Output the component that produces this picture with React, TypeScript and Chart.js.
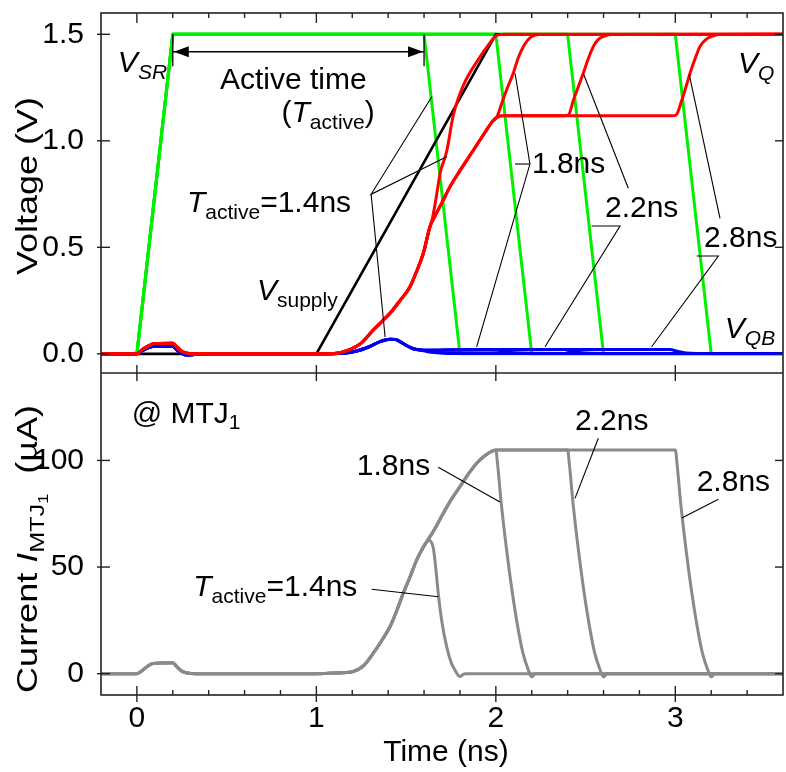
import React, { useEffect, useRef } from 'react';
import { Chart, registerables } from 'chart.js';

Chart.register(...registerables);

const FONT = '"Liberation Sans", Arial, Helvetica, sans-serif';
const FS = 30;

type P = [number, number];

// ---------- axis ticks ----------
const X_TICKS = [0, 1, 2, 3];
const V_TICKS = [0, 0.5, 1.0, 1.5];
const I_TICKS = [0, 50, 100];

// ---------- V_SR (green) for T_active = 1.4 / 1.8 / 2.2 / 2.8 ns ----------
const VSR_14: P[] = [[-0.2, 0], [0, 0], [0.2, 1.5], [1.6, 1.5], [1.8, 0], [3.6, 0]];
const VSR_18: P[] = [[-0.2, 0], [0, 0], [0.2, 1.5], [2.0, 1.5], [2.2, 0], [3.6, 0]];
const VSR_22: P[] = [[-0.2, 0], [0, 0], [0.2, 1.5], [2.4, 1.5], [2.6, 0], [3.6, 0]];
const VSR_28: P[] = [[-0.2, 0], [0, 0], [0.2, 1.5], [3.0, 1.5], [3.2, 0], [3.6, 0]];

// ---------- V_supply (black) ----------
const VSUP: P[] = [[-0.2, 0], [1.0, 0], [2.0, 1.5], [3.6, 1.5]];

// ---------- V_Q (red) ----------
const VQ_RISE: P[] = [[-0.2, 0], [0, 0], [0.03, 0.02], [0.07, 0.04], [0.1, 0.048], [0.2, 0.05], [0.22, 0.035], [0.25, 0.012], [0.29, 0.002], [0.35, 0], [1.0, 0], [1.1, 0.002], [1.187, 0.02], [1.25, 0.05], [1.317, 0.112], [1.41, 0.19], [1.466, 0.25], [1.522, 0.315], [1.56, 0.39], [1.596, 0.472], [1.633, 0.597]];
const VQ_UP14: P[] = [[1.645, 0.63], [1.665, 0.72], [1.69, 0.85], [1.726, 0.95], [1.763, 1.12], [1.819, 1.26], [1.893, 1.37], [1.967, 1.46], [2.005, 1.495], [2.06, 1.5], [3.6, 1.5]];
const VQ_MID: P[] = [[1.66, 0.645], [1.70, 0.71], [1.745, 0.785], [1.80, 0.86], [1.87, 0.95], [1.94, 1.04], [1.98, 1.09], [2.005, 1.11]];
const VQ_UP18: P[] = [[2.033, 1.176], [2.065, 1.25], [2.097, 1.317], [2.125, 1.39], [2.153, 1.442], [2.18, 1.475], [2.2, 1.49], [2.24, 1.499], [3.6, 1.5]];
const VQ_HOLD22: P[] = [[2.04, 1.118], [2.38, 1.118]];
const VQ_UP22: P[] = [[2.404, 1.121], [2.432, 1.19], [2.46, 1.255], [2.487, 1.317], [2.515, 1.385], [2.543, 1.442], [2.57, 1.475], [2.6, 1.49], [2.64, 1.499], [3.6, 1.5]];
const VQ_HOLD28: P[] = [[2.04, 1.118], [2.98, 1.118]];
const VQ_UP28: P[] = [[3.004, 1.121], [3.036, 1.19], [3.06, 1.255], [3.082, 1.317], [3.11, 1.385], [3.137, 1.442], [3.17, 1.475], [3.203, 1.49], [3.24, 1.499], [3.6, 1.5]];

// ---------- V_QB (blue) ----------
const VQB_RISE: P[] = [[-0.2, 0], [0, 0], [0.03, 0.015], [0.07, 0.03], [0.1, 0.035], [0.2, 0.036], [0.22, 0.02], [0.25, 0.002], [0.28, -0.006], [0.33, -0.002], [0.4, 0], [1.0, 0], [1.15, 0.003], [1.22, 0.012], [1.29, 0.032], [1.355, 0.057], [1.41, 0.068], [1.44, 0.067], [1.466, 0.057], [1.5, 0.04], [1.54, 0.024], [1.58, 0.018]];
const VQB_14: P[] = [[1.62, 0.01], [1.67, 0.005], [1.726, 0.002], [3.6, 0.001]];
const VQB_18: P[] = [[1.62, 0.017], [1.8, 0.02], [1.96, 0.02], [2.005, 0.018], [2.05, 0.01], [2.1, 0.005], [2.2, 0.002], [3.6, 0.001]];
const VQB_22: P[] = [[1.62, 0.017], [2.0, 0.02], [2.38, 0.02], [2.42, 0.012], [2.48, 0.005], [2.6, 0.002], [3.6, 0.001]];
const VQB_28: P[] = [[1.62, 0.017], [2.4, 0.02], [2.97, 0.02], [3.01, 0.012], [3.06, 0.004], [3.2, 0.001], [3.6, 0.001]];

// ---------- I_MTJ1 (gray, µA) ----------
const I_RISE: P[] = [[-0.2, 0], [0, 0], [0.03, 1.5], [0.06, 3.5], [0.09, 4.8], [0.2, 5.1], [0.22, 3.5], [0.25, 1.2], [0.29, 0.2], [0.35, 0], [1.0, 0], [1.1, 0.3], [1.2, 0.9], [1.26, 3.5], [1.317, 9.6], [1.36, 15], [1.41, 22], [1.45, 30], [1.484, 37.7], [1.52, 45], [1.559, 53.3], [1.59, 58.5], [1.615, 61.9]];
const I_PEAK14: P[] = [[1.626, 62.6], [1.638, 62], [1.652, 58.8], [1.67, 45.5], [1.679, 37.7], [1.70, 24], [1.726, 12.7], [1.75, 5.5], [1.772, 1.7], [1.79, -0.8], [1.80, -1.4], [1.815, -0.5], [1.83, 0], [3.6, 0]];
const I_CONT: P[] = [[1.65, 66.5], [1.707, 75.2], [1.75, 81.5], [1.80, 87.7], [1.85, 94], [1.893, 98.7], [1.94, 102.3], [1.975, 104.2], [2.0, 104.9]];
const I_DROP18: P[] = [[2.01, 98], [2.03, 80], [2.06, 58], [2.09, 39], [2.12, 23], [2.15, 10], [2.18, 2], [2.2, -1.5], [2.22, 0], [3.6, 0]];
const I_HOLD22: P[] = [[2.4, 104.9]];
const I_DROP22: P[] = [[2.41, 98], [2.43, 80], [2.46, 58], [2.49, 39], [2.52, 23], [2.55, 10], [2.58, 2], [2.6, -1.5], [2.62, 0], [3.6, 0]];
const I_HOLD28: P[] = [[3.0, 104.9]];
const I_DROP28: P[] = [[3.01, 98], [3.03, 80], [3.06, 58], [3.09, 39], [3.12, 23], [3.15, 10], [3.18, 2], [3.2, -1.5], [3.22, 0], [3.6, 0]];

// ---------- annotations (data coordinates) ----------
type Seg = { t: string; it?: boolean; sub?: number };
type Txt = { x: number; y: number; segs: Seg[] };

const TOP_TEXTS: Txt[] = [
  { x: -0.106, y: 1.323, segs: [{ t: 'V', it: true }, { t: 'SR', it: true, sub: 1 }] },
  { x: 0.463, y: 1.243, segs: [{ t: 'Active time' }] },
  { x: 0.806, y: 1.088, segs: [{ t: '(' }, { t: 'T', it: true }, { t: 'active', sub: 1 }, { t: ')' }] },
  { x: 0.279, y: 0.666, segs: [{ t: 'T', it: true }, { t: 'active', sub: 1 }, { t: '=1.4ns' }] },
  { x: 0.669, y: 0.253, segs: [{ t: 'V', it: true }, { t: 'supply', sub: 1 }] },
  { x: 2.201, y: 0.849, segs: [{ t: '1.8ns' }] },
  { x: 2.608, y: 0.642, segs: [{ t: '2.2ns' }] },
  { x: 3.16, y: 0.501, segs: [{ t: '2.8ns' }] },
  { x: 3.349, y: 1.318, segs: [{ t: 'V', it: true }, { t: 'Q', it: true, sub: 1 }] },
  { x: 3.276, y: 0.074, segs: [{ t: 'V', it: true }, { t: 'QB', it: true, sub: 1 }] },
];
const TOP_LEADERS: P[][] = [
  [[1.643, 1.207], [1.305, 0.749], [1.726, 0.925]],
  [[1.305, 0.749], [1.383, 0.079]],
  [[2.107, 1.317], [2.19, 0.891], [1.893, 0.033]],
  [[2.107, 0.891], [2.19, 0.891]],
  [[2.534, 0.6], [2.692, 0.6], [2.274, 0.033]],
  [[2.738, 0.777], [2.487, 1.317]],
  [[3.249, 0.636], [3.078, 1.309]],
  [[3.119, 0.459], [3.24, 0.459], [2.868, 0.033]],
];
const ARROW_Y = 1.418;
const ARROW_X: P = [0.2, 1.6];
const BAR_Y: P = [1.5, 1.35];

const BOTTOM_TEXTS: Txt[] = [
  { x: -0.029, y: 117.6, segs: [{ t: '@ MTJ' }, { t: '1', sub: 1 }] },
  { x: 1.225, y: 93.2, segs: [{ t: '1.8ns' }] },
  { x: 2.441, y: 114.3, segs: [{ t: '2.2ns' }] },
  { x: 3.119, y: 85.8, segs: [{ t: '2.8ns' }] },
  { x: 0.314, y: 36.4, segs: [{ t: 'T', it: true }, { t: 'active', sub: 1 }, { t: '=1.4ns' }] },
];
const BOTTOM_LEADERS: P[][] = [
  [[1.679, 96.8], [2.023, 80.5]],
  [[2.571, 110.4], [2.441, 82.2]],
  [[3.24, 81.8], [3.036, 73]],
  [[1.308, 39.6], [1.679, 36.1]],
];

const V_TITLE: Seg[] = [{ t: 'Voltage (V)' }];
const I_TITLE: Seg[] = [{ t: 'Current ' }, { t: 'I', it: true }, { t: 'MTJ', sub: 1 }, { t: '1', sub: 2 }, { t: '  (µA)' }];
const X_TITLE: Seg[] = [{ t: 'Time (ns)' }];

// ---------- helpers ----------
const toXY = (arr: P[]) => arr.map(([x, y]) => ({ x, y }));

function segFont(s: Seg, size: number) {
  const lvl = s.sub || 0;
  const sz = lvl === 0 ? size : lvl === 1 ? size * 0.7 : size * 0.5;
  return `${s.it ? 'italic ' : ''}${sz}px ${FONT}`;
}
function segDy(s: Seg, size: number) {
  const lvl = s.sub || 0;
  return lvl === 0 ? 0 : lvl === 1 ? size * 0.22 : size * 0.38;
}
function richWidth(ctx: CanvasRenderingContext2D, segs: Seg[], size: number) {
  let w = 0;
  for (const s of segs) {
    ctx.font = segFont(s, size);
    w += ctx.measureText(s.t).width;
  }
  return w;
}
function drawRich(ctx: CanvasRenderingContext2D, segs: Seg[], x: number, y: number, size: number) {
  let cx = x;
  ctx.textAlign = 'left';
  ctx.textBaseline = 'alphabetic';
  for (const s of segs) {
    ctx.font = segFont(s, size);
    ctx.fillText(s.t, cx, y + segDy(s, size));
    cx += ctx.measureText(s.t).width;
  }
}

const overlay = {
  id: 'overlay',
  afterDraw(chart: any) {
    const ctx: CanvasRenderingContext2D = chart.ctx;
    const xs = chart.scales.x;
    const yV = chart.scales.yV;
    const yI = chart.scales.yI;
    const L = xs.left, R = xs.right;
    const T = yV.top, M = yV.bottom, B = yI.bottom;
    const ln = (x1: number, y1: number, x2: number, y2: number) => {
      ctx.beginPath();
      ctx.moveTo(x1, y1);
      ctx.lineTo(x2, y2);
      ctx.stroke();
    };
    ctx.save();
    // frame
    ctx.strokeStyle = '#222';
    ctx.lineWidth = 1.6;
    ctx.strokeRect(L, T, R - L, B - T);
    ln(L, M, R, M);
    // x ticks
    ctx.lineWidth = 1.4;
    for (const v of X_TICKS) {
      const px = xs.getPixelForValue(v);
      ln(px, B - 9, px, B + 7);
      ln(px, M - 8, px, M + 8);
      ln(px, T, px, T + 10);
    }
    for (let i = 1; i < 19; i++) {
      const v = -0.2 + i * 0.2;
      if (Math.abs(v - Math.round(v)) < 1e-6) continue;
      const px = xs.getPixelForValue(v);
      ln(px, B - 5, px, B);
      ln(px, T, px, T + 5);
    }
    // y ticks
    for (const v of V_TICKS) {
      const py = yV.getPixelForValue(v);
      ln(L - 4, py, L + 9, py);
      ln(R - 8, py, R, py);
    }
    for (const v of I_TICKS) {
      const py = yI.getPixelForValue(v);
      ln(L - 4, py, L + 9, py);
      ln(R - 8, py, R, py);
    }

    // leaders
    ctx.strokeStyle = '#000';
    ctx.lineWidth = 1.1;
    const poly = (pts: P[], ys: any) => {
      ctx.beginPath();
      pts.forEach(([x, y], i) => {
        const px = xs.getPixelForValue(x), py = ys.getPixelForValue(y);
        if (i === 0) ctx.moveTo(px, py); else ctx.lineTo(px, py);
      });
      ctx.stroke();
    };
    TOP_LEADERS.forEach((p) => poly(p, yV));
    BOTTOM_LEADERS.forEach((p) => poly(p, yI));

    // active-time arrow
    const ay = yV.getPixelForValue(ARROW_Y);
    const ax1 = xs.getPixelForValue(ARROW_X[0]);
    const ax2 = xs.getPixelForValue(ARROW_X[1]);
    ctx.lineWidth = 1.3;
    ln(ax1, ay, ax2, ay);
    for (const ax of [ax1, ax2]) {
      ln(ax, yV.getPixelForValue(BAR_Y[0]), ax, yV.getPixelForValue(BAR_Y[1]));
    }
    ctx.fillStyle = '#000';
    ctx.beginPath();
    ctx.moveTo(ax1 + 1, ay);
    ctx.lineTo(ax1 + 16, ay - 5.5);
    ctx.lineTo(ax1 + 16, ay + 5.5);
    ctx.closePath();
    ctx.fill();
    ctx.beginPath();
    ctx.moveTo(ax2 - 1, ay);
    ctx.lineTo(ax2 - 16, ay - 5.5);
    ctx.lineTo(ax2 - 16, ay + 5.5);
    ctx.closePath();
    ctx.fill();

    // texts
    ctx.fillStyle = '#000';
    TOP_TEXTS.forEach((t) => drawRich(ctx, t.segs, xs.getPixelForValue(t.x), yV.getPixelForValue(t.y), FS));
    BOTTOM_TEXTS.forEach((t) => drawRich(ctx, t.segs, xs.getPixelForValue(t.x), yI.getPixelForValue(t.y), FS));

    // axis titles
    const xw = richWidth(ctx, X_TITLE, FS);
    drawRich(ctx, X_TITLE, 446 - xw / 2, chart.height - 11, FS);
    const rot = (segs: Seg[], cx: number, cy: number) => {
      const w = richWidth(ctx, segs, FS);
      ctx.save();
      ctx.translate(cx, cy);
      ctx.rotate(-Math.PI / 2);
      ctx.scale(1.2, 1);
      drawRich(ctx, segs, -w / 2, 0, FS);
      ctx.restore();
    };
    rot(V_TITLE, 37, (T + M) / 2 - 7);
    rot(I_TITLE, 37, (M + B) / 2 + 15);
    ctx.restore();
  },
};

const RED = '#ff0000';
const BLUE = '#0000ee';
const GREEN = '#00f000';
const GRAY = '#8a8a8a';

export default function App() {
  const ref = useRef<HTMLCanvasElement | null>(null);
  useEffect(() => {
    if (!ref.current) return;
    const line = (data: P[], color: string, axis: string, width: number, smooth: boolean) => ({
      data: toXY(data),
      yAxisID: axis,
      borderColor: color,
      backgroundColor: color,
      borderWidth: width,
      pointRadius: 0,
      fill: false,
      tension: 0,
      cubicInterpolationMode: smooth ? 'monotone' : 'default',
      borderJoinStyle: 'round',
      borderCapStyle: 'round',
    });
    const datasets: any[] = [
      line([...I_RISE, ...I_PEAK14], GRAY, 'yI', 3, true),
      line([...I_RISE, ...I_CONT, ...I_DROP18], GRAY, 'yI', 3, true),
      line([...I_RISE, ...I_CONT, ...I_HOLD22, ...I_DROP22], GRAY, 'yI', 3, true),
      line([...I_RISE, ...I_CONT, ...I_HOLD28, ...I_DROP28], GRAY, 'yI', 3, true),
      line([...VQ_RISE, ...VQ_UP14], RED, 'yV', 3, true),
      line([...VQ_RISE, ...VQ_MID, ...VQ_UP18], RED, 'yV', 3, true),
      line([...VQ_RISE, ...VQ_MID, ...VQ_HOLD22, ...VQ_UP22], RED, 'yV', 3, true),
      line([...VQ_RISE, ...VQ_MID, ...VQ_HOLD28, ...VQ_UP28], RED, 'yV', 3, true),
      line([...VQB_RISE, ...VQB_14], BLUE, 'yV', 3, true),
      line([...VQB_RISE, ...VQB_18], BLUE, 'yV', 3, true),
      line([...VQB_RISE, ...VQB_22], BLUE, 'yV', 3, true),
      line([...VQB_RISE, ...VQB_28], BLUE, 'yV', 3, true),
      line(VSUP, '#000000', 'yV', 2.6, false),
      line(VSR_14, GREEN, 'yV', 3, false),
      line(VSR_18, GREEN, 'yV', 3, false),
      line(VSR_22, GREEN, 'yV', 3, false),
      line(VSR_28, GREEN, 'yV', 3, false),
    ];
    const tickFont = { family: FONT, size: FS };
    const noPadY = (s: any) => { s.width = 101; s.paddingTop = 0; s.paddingBottom = 0; };
    const chart = new Chart(ref.current, {
      type: 'line',
      data: { datasets },
      options: {
        animation: false,
        responsive: false,
        devicePixelRatio: 1,
        layout: { padding: { top: 13, right: 3, left: 0, bottom: 0 } },
        plugins: { legend: { display: false }, tooltip: { enabled: false }, title: { display: false } },
        scales: {
          x: {
            type: 'linear',
            position: 'bottom',
            min: -0.2,
            max: 3.6,
            grid: { display: false },
            border: { display: false },
            ticks: { color: '#000', font: tickFont, padding: -2, autoSkip: false, maxRotation: 0, callback: (v: any) => String(v) },
            afterBuildTicks: (s: any) => { s.ticks = X_TICKS.map((v) => ({ value: v })); },
            afterFit: (s: any) => { s.height = 77; s.paddingLeft = 0; s.paddingRight = 0; },
          },
          yI: {
            type: 'linear',
            position: 'left',
            stack: 'panels',
            stackWeight: 322,
            min: -10,
            max: 141,
            grid: { display: false },
            border: { display: false },
            ticks: { color: '#000', font: tickFont, padding: 9, autoSkip: false, callback: (v: any) => String(v) },
            afterBuildTicks: (s: any) => { s.ticks = I_TICKS.map((v) => ({ value: v })); },
            afterFit: noPadY,
          },
          yV: {
            type: 'linear',
            position: 'left',
            stack: 'panels',
            stackWeight: 360,
            min: -0.09,
            max: 1.6,
            grid: { display: false },
            border: { display: false },
            ticks: { color: '#000', font: tickFont, padding: 9, autoSkip: false, callback: (v: any) => Number(v).toFixed(1) },
            afterBuildTicks: (s: any) => { s.ticks = V_TICKS.map((v) => ({ value: v })); },
            afterFit: noPadY,
          },
        },
      } as any,
      plugins: [overlay],
    });
    return () => chart.destroy();
  }, []);
  return (
    <div style={{ position: 'absolute', left: 0, top: 0, width: 786, height: 772, background: '#fff' }}>
      <canvas ref={ref} width={786} height={772} style={{ display: 'block' }} />
    </div>
  );
}
